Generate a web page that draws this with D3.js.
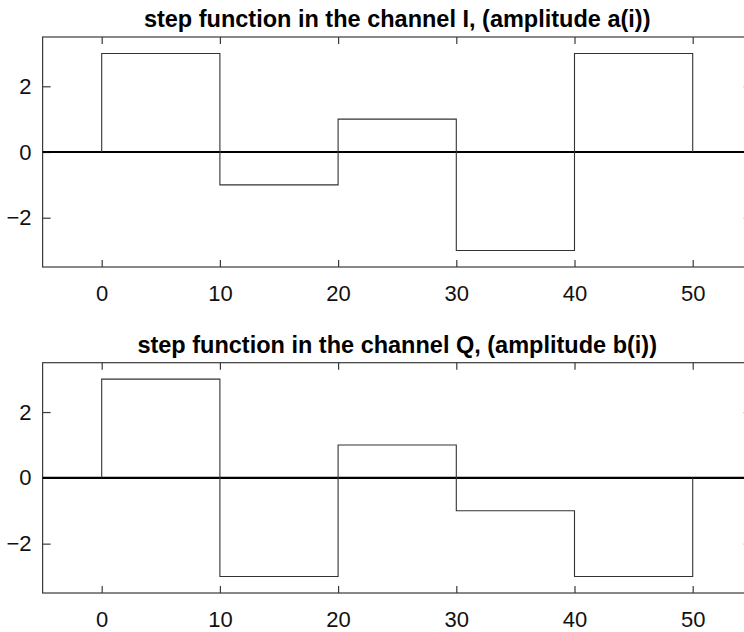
<!DOCTYPE html>
<html>
<head>
<meta charset="utf-8">
<script src="https://cdn.jsdelivr.net/npm/d3@7"></script>
<style>
  html, body { margin: 0; padding: 0; background: #fff; }
  svg { display: block; }
</style>
</head>
<body>
<svg id="chart" width="744" height="632"></svg>
<script>
// ---- data ----
const stepStarts = [0, 10, 20, 30, 40];
const stepEnd = 50;
const valuesA = [3, -1, 1, -3, 3];
const valuesB = [3, -3, 1, -1, -3];
const xTicks = [0, 10, 20, 30, 40, 50];
const yTicks = [-2, 0, 2];
const titles = [
  "step function in the channel I, (amplitude a(i))",
  "step function in the channel Q, (amplitude b(i))"
];
const xDomain = [-5, 55];
const yDomain = [-3.5, 3.5];

// ---- layout ----
const svg = d3.select("#chart");
const left = 42.6, right = 751.8;
const panels = [
  { top: 37, bottom: 267, values: valuesA, title: titles[0] },
  { top: 362.7, bottom: 593, values: valuesB, title: titles[1] }
];

const x = d3.scaleLinear().domain(xDomain).range([left, right]);
const axisColor = "#3a3a3a";

panels.forEach(p => {
  const y = d3.scaleLinear().domain(yDomain).range([p.bottom, p.top]);
  const g = svg.append("g");

  // title
  g.append("text")
    .attr("x", (left + right) / 2)
    .attr("y", p.top - 10)
    .attr("text-anchor", "middle")
    .attr("font-family", "Liberation Sans, Arial, sans-serif")
    .attr("font-weight", "bold")
    .attr("font-size", 23.5)
    .attr("fill", "#000")
    .text(p.title);

  // box
  g.append("rect")
    .attr("x", left).attr("y", p.top)
    .attr("width", right - left).attr("height", p.bottom - p.top)
    .attr("fill", "none").attr("stroke", axisColor).attr("stroke-width", 1.2);

  const tickLen = 7;
  const labelFont = "Liberation Sans, Arial, sans-serif";

  const xb = g.append("g").attr("transform", `translate(0,${p.bottom})`)
    .call(d3.axisBottom(x).tickValues(xTicks).tickSize(-tickLen).tickPadding(18).tickFormat(d3.format("d")));
  const xt = g.append("g").attr("transform", `translate(0,${p.top})`)
    .call(d3.axisTop(x).tickValues(xTicks).tickSize(-tickLen).tickFormat(""));
  const yl = g.append("g").attr("transform", `translate(${left},0)`)
    .call(d3.axisLeft(y).tickValues(yTicks).tickSize(-8).tickPadding(11).tickFormat(d3.format("d")));
  const yr = g.append("g").attr("transform", `translate(${right},0)`)
    .call(d3.axisRight(y).tickValues(yTicks).tickSize(-8).tickFormat(""));

  [xb, xt, yl, yr].forEach(a => {
    a.select(".domain").remove();
    a.selectAll(".tick line").attr("stroke", axisColor).attr("stroke-width", 1.2);
    a.selectAll(".tick text")
      .attr("font-family", labelFont)
      .attr("font-size", 22)
      .attr("fill", "#111");
  });

  // zero line
  g.append("line")
    .attr("x1", left).attr("x2", right)
    .attr("y1", y(0)).attr("y2", y(0))
    .attr("stroke", "#000").attr("stroke-width", 2.2);

  // step function
  const pts = [[stepStarts[0], 0]]
    .concat(stepStarts.map((s, i) => [s, p.values[i]]))
    .concat([[stepEnd, 0]]);
  const line = d3.line()
    .x(d => x(d[0])).y(d => y(d[1]))
    .curve(d3.curveStepAfter);
  g.append("path")
    .attr("d", line(pts))
    .attr("fill", "none")
    .attr("stroke", "#333")
    .attr("stroke-width", 1.1);
});
</script>
</body>
</html>
